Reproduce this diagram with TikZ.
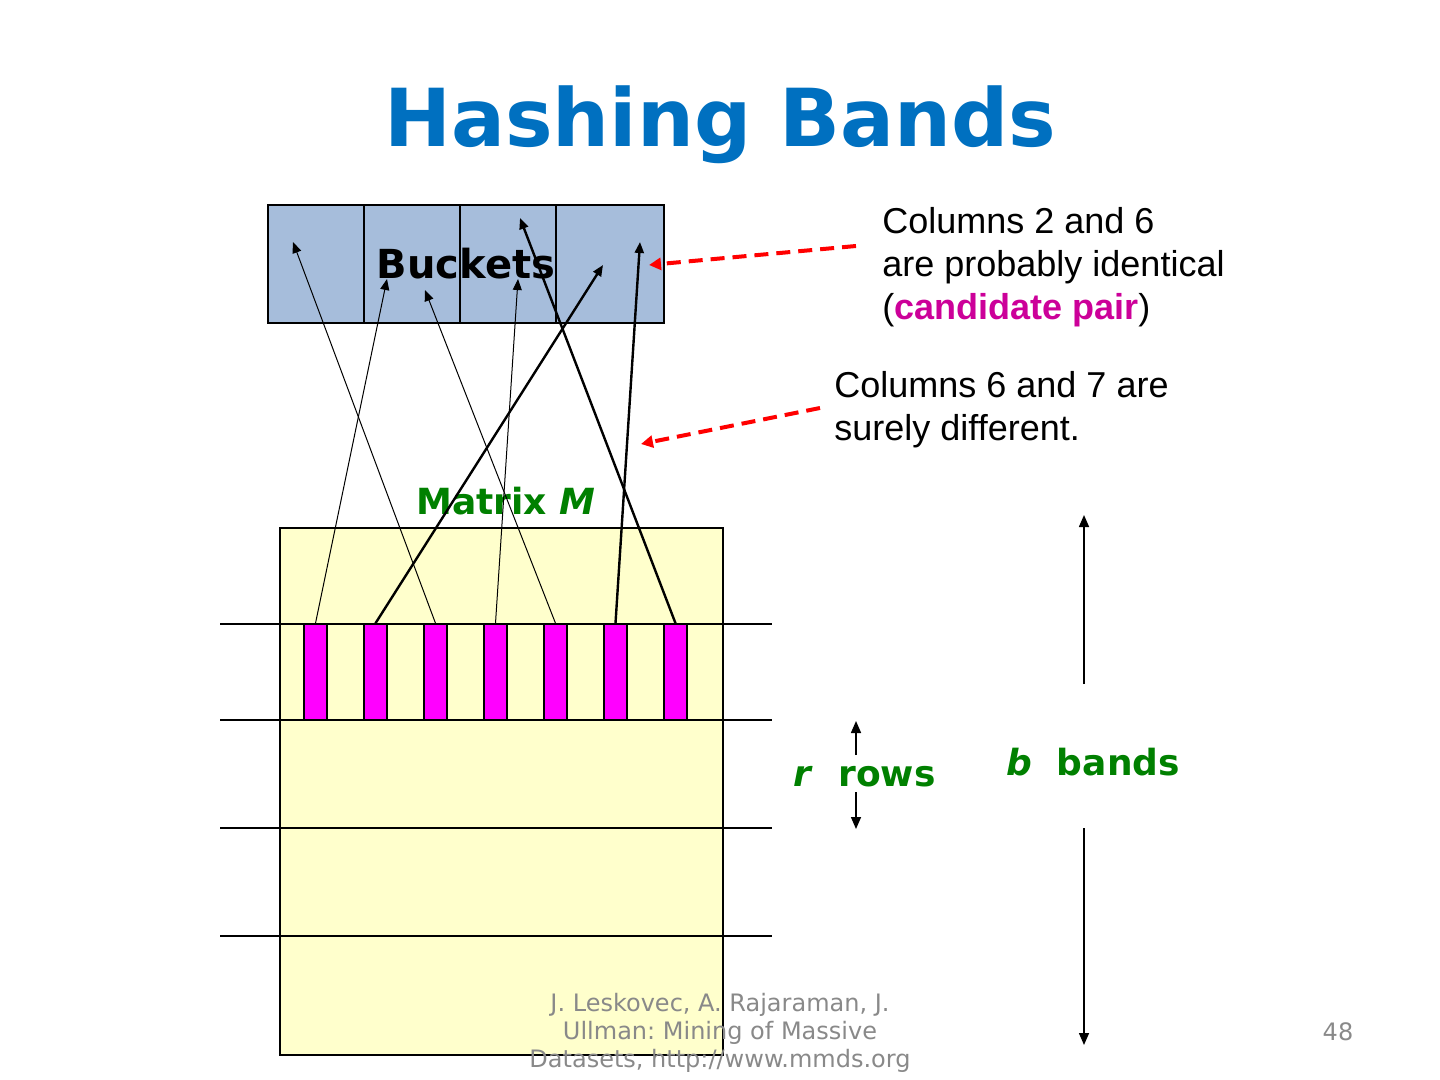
\documentclass[tikz,border=0pt]{standalone}
\usepackage{fontspec}
\setmainfont{DejaVu Sans}
\newfontfamily\arialfont{Liberation Sans}
\usetikzlibrary{arrows.meta}
\definecolor{titleblue}{RGB}{0,112,192}
\definecolor{bucketblue}{RGB}{166,189,219}
\definecolor{matyellow}{RGB}{255,255,204}
\definecolor{barmagenta}{RGB}{255,0,255}
\definecolor{bandgreen}{RGB}{0,128,0}
\definecolor{pairpink}{RGB}{204,0,153}
\definecolor{footgray}{RGB}{137,137,137}
\tikzset{
  bucket/.style={draw, line width=1pt, fill=bucketblue, minimum height=59pt, inner sep=0pt},
  colbar/.style={draw, line width=0.75pt, fill=barmagenta, minimum width=11.5pt, minimum height=48pt, inner sep=0pt},
  hashline/.style={-{Triangle[length=5.5pt,width=4.5pt]}, line width=0.5pt},
  hashbold/.style={hashline, line width=1.2pt},
  note/.style={font=\arialfont\fontsize{18}{21.5}\selectfont, align=left, anchor=north west, inner sep=0pt},
  pointer/.style={red, line width=2pt, dash pattern=on 7pt off 4pt, -{Triangle[length=6pt,width=6pt]}},
  sizearrow/.style={-{Triangle[length=6pt,width=5pt]}, line width=0.75pt},
  greenlabel/.style={font=\bfseries\fontsize{18}{21}\selectfont, text=bandgreen, anchor=base},
  footer/.style={font=\fontsize{12}{14}\selectfont\frenchspacing, text=footgray},
}
\begin{document}
\begin{tikzpicture}[x=0.5pt, y=-0.5pt]
    \useasboundingbox (0,0) rectangle (1440,1080);
    \node[font=\bfseries\fontsize{40}{48}\selectfont, text=titleblue, anchor=base] (title) at (720,147) {Hashing Bands};
    % buckets
    \foreach \i/\cx/\w in {1/316/48pt, 2/412/48pt, 3/508/48pt, 4/610/54pt}
        \node[bucket, minimum width=\w] (k\i) at (\cx,264) {};
    \node[font=\bfseries\fontsize{20}{24}\selectfont, anchor=base] (buckets) at (466,279) {Buckets};
    % matrix and its bands
    \node[draw, line width=0.75pt, fill=matyellow, minimum width=221.5pt, minimum height=263.5pt, inner sep=0pt] (mat) at (501.5,791.5) {};
    \foreach \y in {624,720,828,936}
        \draw[line width=1pt] (220,\y) -- (772,\y);
    \foreach \i in {1,...,7}
        \node[colbar] (c\i) at ({315.5+60*(\i-1)},672) {};
    \node[greenlabel] (mname) at (506,514) {Matrix \textit{M}};
    % where each column of the band is hashed to
    \coordinate (h1) at (387,279);
    \coordinate (h2) at (603,265);
    \coordinate (h3) at (293,242);
    \coordinate (h4) at (518,279);
    \coordinate (h5) at (425,290);
    \coordinate (h6) at (640,242);
    \coordinate (h7) at (520,218);
    \foreach \i in {1,3,4,5}
        \draw[hashline] (c\i.north) -- (h\i);
    \foreach \i in {2,6,7}
        \draw[hashbold] (c\i.north) -- (h\i);
    % remarks
    \node[note] (note1) at (882,207) {Columns 2 and 6\\are probably identical\\(\textcolor{pairpink}{\bfseries candidate pair})};
    \node[note] (note2) at (834,371) {Columns 6 and 7 are\\surely different.};
    \coordinate (p1) at (856,246);
    \coordinate (q1) at (649,265);
    \coordinate (p2) at (820,408);
    \coordinate (q2) at (641,444);
    \draw[pointer] (p1) -- (q1);
    \draw[pointer] (p2) -- (q2);
    % r rows, b bands
    \node[greenlabel] (rlabel) at (864.5,786) {\textit{r}\ \ rows};
    \coordinate (r1) at (856,755);
    \coordinate (r2) at (856,721);
    \coordinate (r3) at (856,792);
    \coordinate (r4) at (856,829);
    \draw[sizearrow] (r1) -- (r2);
    \draw[sizearrow] (r3) -- (r4);
    \node[greenlabel] (blabel) at (1093,775) {\textit{b}\ \ bands};
    \coordinate (b1) at (1084,684);
    \coordinate (b2) at (1084,515);
    \coordinate (b3) at (1084,828);
    \coordinate (b4) at (1084,1045);
    \draw[sizearrow] (b1) -- (b2);
    \draw[sizearrow] (b3) -- (b4);
    % footer
    \node[footer, align=center, anchor=north, inner sep=0pt] (credit) at (720,993) {J. Leskovec, A. Rajaraman, J.\\Ullman: Mining of Massive\\Datasets, http://www.mmds.org};
    \node[footer, anchor=base] (pagenum) at (1338,1040) {48};
\end{tikzpicture}
\end{document}
